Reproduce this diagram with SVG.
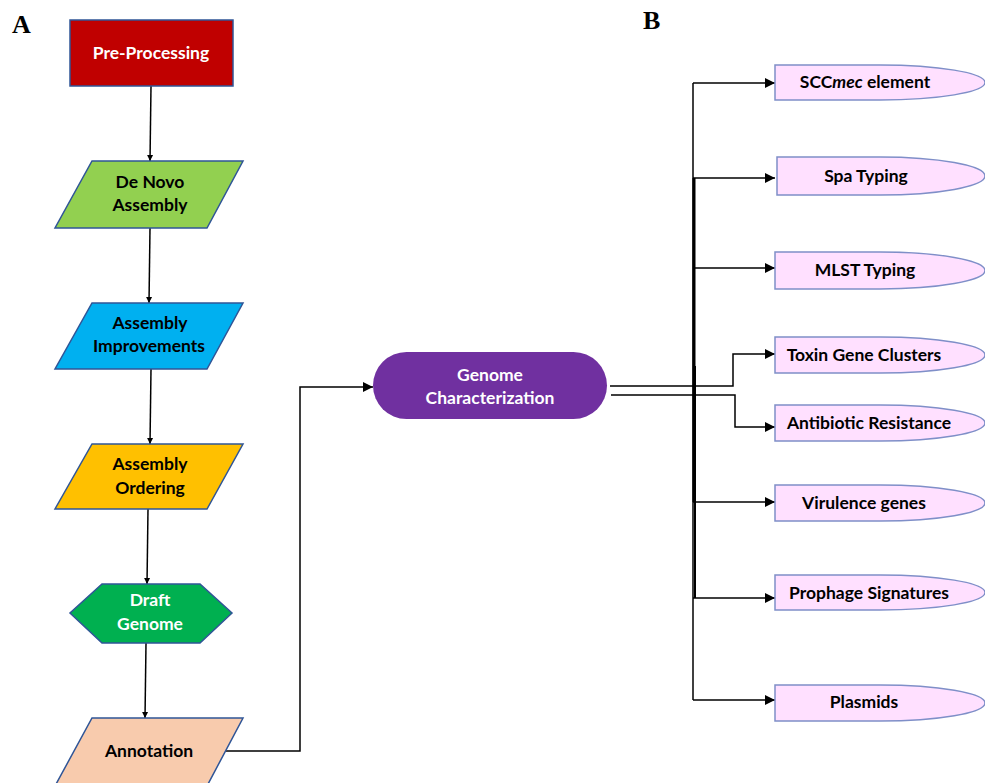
<svg xmlns="http://www.w3.org/2000/svg" width="985" height="783" viewBox="0 0 985 783">
<style>
.lbl{font-family:"Liberation Serif",serif;font-weight:bold;font-size:26px;fill:#000}
.t{font-family:Lato,"Open Sans",sans-serif;font-weight:bold;font-size:17.5px;text-anchor:middle;fill:#000}
.w{fill:#fff}
.box{stroke:#2F5597;stroke-width:1.5}
.pink{fill:#FFE0FF;stroke:#7F8FC8;stroke-width:1.5}
.c{fill:none;stroke:#000;stroke-width:1.5}
</style>
<defs>
<marker id="ah" viewBox="0 0 10 10" refX="10" refY="5" markerWidth="10" markerHeight="10" markerUnits="userSpaceOnUse" orient="auto">
<path d="M0,0 L10,5 L0,10 z" fill="#000"/>
</marker>
<marker id="sm" viewBox="0 0 10 10" refX="10" refY="5" markerWidth="6" markerHeight="8" markerUnits="userSpaceOnUse" orient="auto">
<path d="M0,0 L10,5 L0,10 z" fill="#000"/>
</marker>
</defs>
<text class="lbl" x="12" y="33">A</text>
<text class="lbl" x="643" y="29">B</text>

<g id="connectors">
<path class="c" d="M151,86 L150,161" marker-end="url(#sm)"/>
<path class="c" d="M150,228 L149,303" marker-end="url(#sm)"/>
<path class="c" d="M151,369 L150,444" marker-end="url(#sm)"/>
<path class="c" d="M148,509 L147,584" marker-end="url(#sm)"/>
<path class="c" d="M146,643 L145,718" marker-end="url(#sm)"/>
<path class="c" d="M226,751 H300 V387 H373" marker-end="url(#ah)"/>
<path class="c" d="M610,386 H733 V354 H775" marker-end="url(#ah)"/>
<path class="c" d="M611,395 H735 V427 H775" marker-end="url(#ah)"/>
<path class="c" d="M693,83 V700"/>
<path fill="none" stroke="#000" stroke-width="3" d="M694,178 V502"/>
<path fill="none" stroke="#000" stroke-width="2" d="M695,366 V598"/>
<path class="c" d="M693,83 H775" marker-end="url(#ah)"/>
<path class="c" d="M693,178 H775" marker-end="url(#ah)"/>
<path class="c" d="M693,268 H775" marker-end="url(#ah)"/>
<path class="c" d="M693,502 H775" marker-end="url(#ah)"/>
<path class="c" d="M693,598 H775" marker-end="url(#ah)"/>
<path class="c" d="M693,700 H775" marker-end="url(#ah)"/>
</g>

<g id="pre-processing">
<rect class="box" x="70" y="20" width="163" height="66" fill="#C00000"/>
<text class="t w" x="151" y="59">Pre-Processing</text>
</g>
<g id="de-novo-assembly">
<polygon class="box" points="92,161 243,161 207,228 55,228" fill="#92D050"/>
<text class="t" x="150" y="188">De Novo</text>
<text class="t" x="150" y="211">Assembly</text>
</g>
<g id="assembly-improvements">
<polygon class="box" points="92,303 243,303 207,369 55,369" fill="#00B0F0"/>
<text class="t" x="150" y="329">Assembly</text>
<text class="t" x="149" y="352">Improvements</text>
</g>
<g id="assembly-ordering">
<polygon class="box" points="92,444 243,444 207,509 55,509" fill="#FFC000"/>
<text class="t" x="150" y="470">Assembly</text>
<text class="t" x="150" y="494">Ordering</text>
</g>
<g id="draft-genome">
<polygon class="box" points="102,584 200,584 232,613 200,643 102,643 70,613" fill="#00B050"/>
<text class="t w" x="150" y="606">Draft</text>
<text class="t w" x="150" y="630">Genome</text>
</g>
<g id="annotation">
<polygon class="box" points="92,718 243,718 207,786 55,786" fill="#F8CBAD"/>
<text class="t" x="149" y="757">Annotation</text>
</g>
<g id="genome-characterization">
<rect x="373" y="352" width="234" height="67" rx="33.5" fill="#7030A0"/>
<text class="t w" x="490" y="381">Genome</text>
<text class="t w" x="490" y="404">Characterization</text>
</g>

<g id="sccmec">
<path class="pink" d="M775,65 H880 A105,17.5 0 0 1 880,100 H775 Z"/>
<text class="t" x="865" y="88">SCC<tspan font-style="italic">mec</tspan> element</text>
</g>
<g id="spa">
<path class="pink" d="M777,157 H880 A105,19 0 0 1 880,195 H777 Z"/>
<text class="t" x="866" y="182">Spa Typing</text>
</g>
<g id="mlst">
<path class="pink" d="M775,252 H880 A105,18.5 0 0 1 880,289 H775 Z"/>
<text class="t" x="865" y="276">MLST Typing</text>
</g>
<g id="toxin">
<path class="pink" d="M775,337 H880 A105,18 0 0 1 880,373 H775 Z"/>
<text class="t" x="864" y="361">Toxin Gene Clusters</text>
</g>
<g id="antibiotic">
<path class="pink" d="M775,405 H880 A105,18 0 0 1 880,441 H775 Z"/>
<text class="t" x="869" y="429">Antibiotic Resistance</text>
</g>
<g id="virulence">
<path class="pink" d="M775,485 H880 A105,18 0 0 1 880,521 H775 Z"/>
<text class="t" x="864" y="509">Virulence genes</text>
</g>
<g id="prophage">
<path class="pink" d="M775,575 H880 A105,17.5 0 0 1 880,610 H775 Z"/>
<text class="t" x="869" y="599">Prophage Signatures</text>
</g>
<g id="plasmids">
<path class="pink" d="M775,685 H880 A105,18 0 0 1 880,721 H775 Z"/>
<text class="t" x="864" y="708">Plasmids</text>
</g>
</svg>
